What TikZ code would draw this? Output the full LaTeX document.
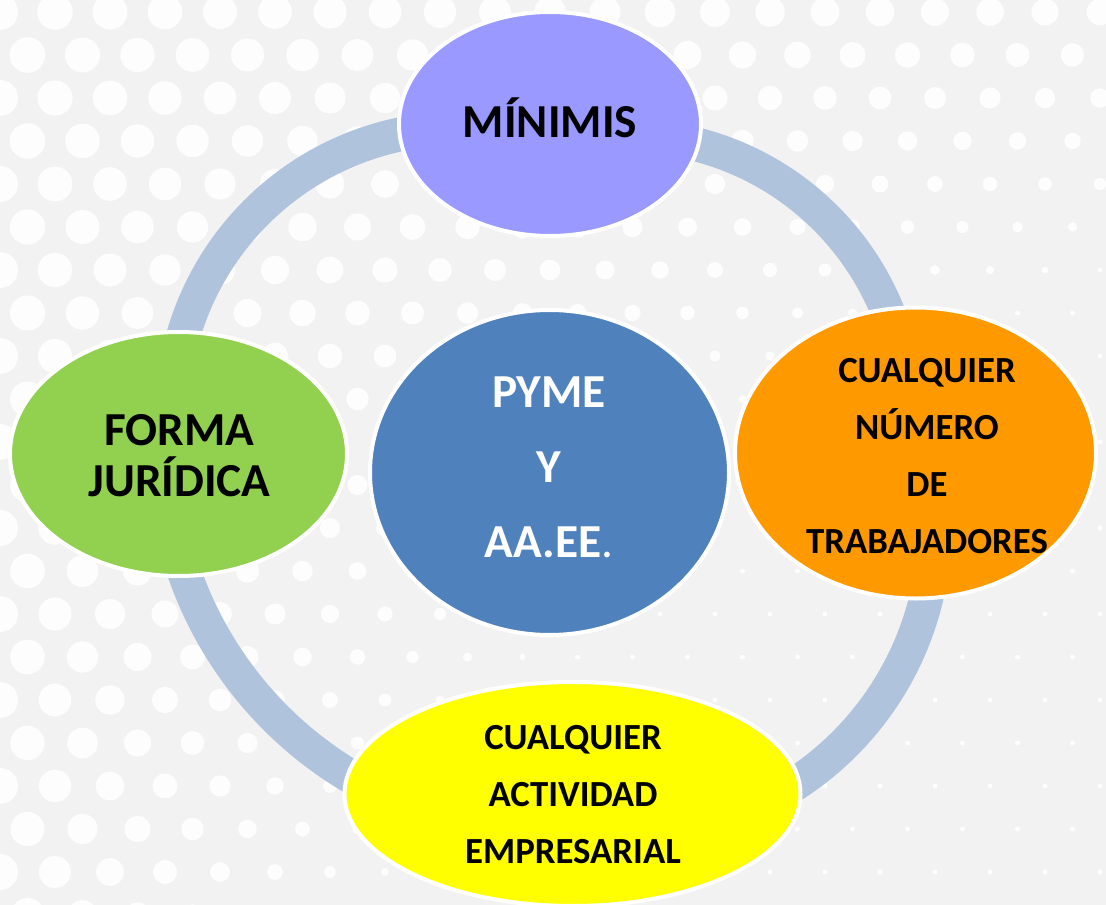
\documentclass[tikz,border=0pt]{standalone}
\usepackage{fontspec}
\setmainfont{Carlito}
\usetikzlibrary{shapes.geometric}
\definecolor{bg}{HTML}{F2F2F2}
\definecolor{ringc}{HTML}{B0C3DD}
\definecolor{lav}{HTML}{9999FF}
\definecolor{grn}{HTML}{92D050}
\definecolor{blu}{HTML}{4F81BD}
\definecolor{org}{HTML}{FF9900}
\definecolor{yel}{HTML}{FFFF00}
\begin{document}
\begin{tikzpicture}[x=0.75pt,y=-0.75pt,
  bub/.style={ellipse, draw=white, line width=3pt, inner sep=0pt},
  bigtxt/.style={font=\fontsize{35.5}{38.25}\selectfont\bfseries, align=center, inner sep=0pt},
  smalltxt/.style={font=\fontsize{27.6}{42.75}\selectfont\bfseries, align=center, inner sep=0pt},
  ringline/.style={draw=ringc, line width=25.5pt}]
\fill[bg] (0,0) rectangle (1106,905);
\useasboundingbox (0,0) rectangle (1106,905);
% halftone dots
\begin{scope}
\clip (0,0) rectangle (1106,905);
\foreach \j in {0,...,21}{
  \foreach \i in {0,...,20}{
    \pgfmathsetmacro\xx{\i*55+mod(\j,2)*27.5}
    \pgfmathsetmacro\yy{\j*43+12}
    \pgfmathsetmacro\rr{0.75*max(2.5,min(18,18-0.038*(\xx/1000)*(\yy+100)))}
    \fill[white, opacity=0.85] (\xx,\yy) circle[radius=\rr pt];
  }
}
\end{scope}
% ring arcs (centres of the four arcs)
\coordinate (cTL) at (459.4,415.7);
\coordinate (cTR) at (626.5,417.4);
\coordinate (cBR) at (626.3,525.6);
\coordinate (cBL) at (548.4,445.3);
\draw[ringline] ([shift={(190:287.5)}]cTL) arc[start angle=190, end angle=262, radius=287.5];
\draw[ringline] ([shift={(278:281.8)}]cTR) arc[start angle=278, end angle=345, radius=281.8];
\draw[ringline] ([shift={(8:308.6)}]cBR) arc[start angle=8, end angle=62, radius=308.6];
\draw[ringline] ([shift={(116:385.7)}]cBL) arc[start angle=116, end angle=165, radius=385.7];
% bubbles
\node[bub, fill=lav, minimum width=226.5pt, minimum height=168pt] (min) at (550,124) {};
\node[bub, fill=grn, minimum width=252.75pt, minimum height=183pt] (forma) at (178.5,454) {};
\node[bub, fill=blu, minimum width=269.25pt, minimum height=243.75pt] (pyme) at (549.5,472.5) {};
\node[bub, fill=org, minimum width=270.75pt, minimum height=218.25pt] (num) at (915.5,453) {};
\node[bub, fill=yel, minimum width=342pt, minimum height=168pt] (act) at (572.5,794) {};
% texts
\node[bigtxt] (minT) at (550,118) {MÍNIMIS};
\node[bigtxt] (formaT) at (179.5,455.5) {FORMA\\JURÍDICA};
\node[bigtxt, text=white, font=\fontsize{35.5}{56.25}\selectfont\bfseries] (pymeT) at (549,467.5) {PYME\\Y\\AA.EE{\mdseries.}};
\node[smalltxt] (numT) at (927,455.75) {CUALQUIER\\NÚMERO\\DE\\TRABAJADORES};
\node[smalltxt] (actT) at (573,794.7) {CUALQUIER\\ACTIVIDAD\\EMPRESARIAL};
\end{tikzpicture}
\end{document}
